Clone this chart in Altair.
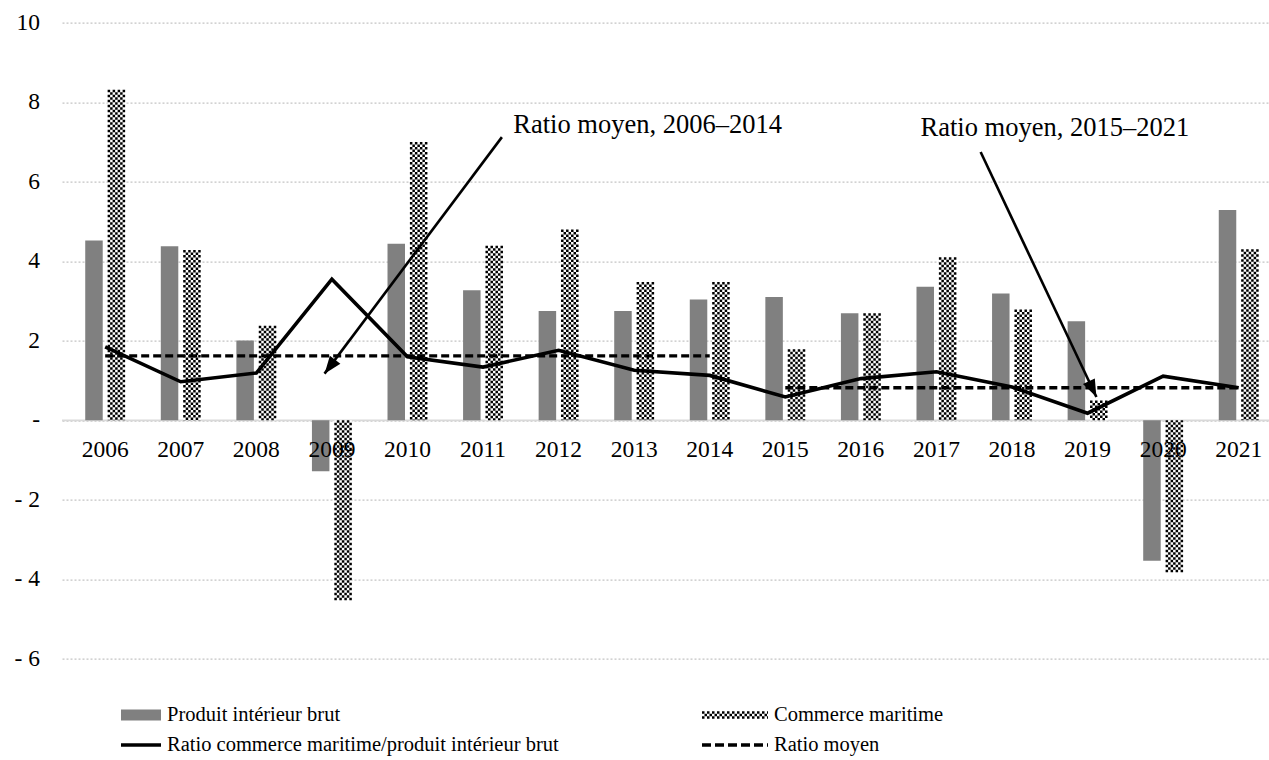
import math
import altair as alt
import pandas as pd

# ---- data -------------------------------------------------------------
years = list(range(2006, 2022))
pib = [4.52, 4.38, 2.01, -1.28, 4.44, 3.27, 2.75, 2.75, 3.04, 3.10, 2.69, 3.36, 3.19, 2.49, -3.53, 5.29]
commerce = [8.31, 4.28, 2.38, -4.52, 7.00, 4.39, 4.80, 3.48, 3.48, 1.79, 2.69, 4.10, 2.79, 0.50, -3.82, 4.30]
ratio = [1.85, 0.97, 1.19, 3.55, 1.60, 1.34, 1.76, 1.26, 1.13, 0.59, 1.05, 1.22, 0.84, 0.18, 1.11, 0.82]

period_names = ["2006–2014", "2015–2021"]
period_start = [2006, 2015]
period_end = [2014, 2021]
period_mean = [1.62, 0.82]

y_ticks = [-6, -4, -2, 0, 2, 4, 6, 8, 10]

# annotations, in data units (year, value)
note_text = ["Ratio moyen, 2006–2014", "Ratio moyen, 2015–2021"]
note_x = [2011.40, 2016.79]
note_y = [7.23, 7.15]
tail_x = [2011.25, 2017.585]
tail_y = [7.12, 6.745]
tip_x = [2008.903, 2019.117]
tip_y = [1.174, 0.586]

legend_names = ["Produit intérieur brut", "Commerce maritime",
                "Ratio commerce maritime/produit intérieur brut", "Ratio moyen"]
legend_kind = ["pib", "commerce", "ratio", "moyen"]
legend_col = [0, 1, 0, 1]
legend_row = [0, 0, 1, 1]

# ---- layout / style ---------------------------------------------------
FONT = "Liberation Serif"
PLOT_W = 1207
PLOT_H = 636.4
PAD_TOP = 22.6
X_DOMAIN = [2005.4948, 2021.3346]
Y_DOMAIN = [-6, 10]
BAR_W = 17.5
BAR_SHIFT = 11.2
CELL = 2.5
GREY = "#808080"
NBSP = "\u00a0"

px_x = PLOT_W / (X_DOMAIN[1] - X_DOMAIN[0])
px_y = PLOT_H / (Y_DOMAIN[1] - Y_DOMAIN[0])

bars = pd.DataFrame({"year": years, "label": [str(y) for y in years],
                     "pib": pib, "commerce": commerce, "ratio": ratio})


def tick_label(v):
    # accounting style: "-" for zero, "- n" for negatives
    if v == 0:
        return "-" + NBSP + NBSP
    if v < 0:
        return "- " + str(abs(v))
    return str(v)


ticks = pd.DataFrame({"v": y_ticks, "text": [tick_label(v) for v in y_ticks],
                      "x0": [X_DOMAIN[0]] * len(y_ticks)})

avg_rows = []
for name, s, e, m in zip(period_names, period_start, period_end, period_mean):
    avg_rows.append({"period": name, "year": s, "value": m})
    avg_rows.append({"period": name, "year": e, "value": m})
avg = pd.DataFrame(avg_rows)

angles = []
for tx, ty, hx, hy in zip(tail_x, tail_y, tip_x, tip_y):
    dx = (hx - tx) * px_x
    dy = -(hy - ty) * px_y
    angles.append(math.degrees(math.atan2(dx, -dy)) % 360)
arrows = pd.DataFrame({"tail_x": tail_x, "tail_y": tail_y,
                       "tip_x": tip_x, "tip_y": tip_y, "angle": angles})
notes = pd.DataFrame({"text": note_text, "x": note_x, "y": note_y})

legend_df = pd.DataFrame({"name": legend_names, "kind": legend_kind,
                          "col": legend_col, "row": legend_row})

xs = alt.Scale(domain=X_DOMAIN, nice=False, zero=False)
ys = alt.Scale(domain=Y_DOMAIN, nice=False, zero=False)

# grid only; the tick labels are drawn as a text layer
yax = alt.Axis(values=y_ticks, labels=False, grid=True, gridColor="#c4c4c4",
               gridDash=[2, 2], gridWidth=1.2, domain=False, ticks=False,
               tickSize=0, title=None)


def X(field):
    return alt.X(field, scale=xs, axis=None, title=None)


def Y(field):
    return alt.Y(field, scale=ys, axis=yax, title=None)


base = alt.Chart(bars)

zero_line = alt.Chart(pd.DataFrame({"v": [0]})).mark_rule(
    color="#d9d9d9", strokeWidth=1.6).encode(y=Y("v:Q"))

y_labels = alt.Chart(ticks).mark_text(font=FONT, fontSize=23.5, align="right",
                                      baseline="middle", dx=-27, color="black").encode(
    x=X("x0:Q"), y=Y("v:Q"), text="text:N")

gdp_bars = base.mark_bar(color=GREY, width=BAR_W, xOffset=-BAR_SHIFT).encode(
    x=X("year:Q"), y=Y("pib:Q"))

trade_bg = base.mark_bar(color="white", width=BAR_W, xOffset=BAR_SHIFT).encode(
    x=X("year:Q"), y=Y("commerce:Q"))

# checkered texture for the maritime-trade bars
n_cols = int(round(BAR_W / CELL))
trade_texture = []
for i in range(n_cols):
    off = BAR_SHIFT + (i - (n_cols - 1) / 2) * CELL
    trade_texture.append(
        base.mark_rule(color="black", strokeWidth=CELL, strokeDash=[CELL, CELL],
                       strokeDashOffset=(CELL if i % 2 else 0), strokeCap="butt",
                       xOffset=off).encode(
            x=X("year:Q"), y=Y("commerce:Q"), y2=alt.datum(0)))

year_labels = base.mark_text(font=FONT, fontSize=23.5, baseline="alphabetic",
                             dy=37, color="black").encode(
    x=X("year:Q"), y=alt.datum(0), text="label:N")

ratio_line = base.mark_line(color="black", strokeWidth=3.6).encode(
    x=X("year:Q"), y=Y("ratio:Q"))

avg_lines = alt.Chart(avg).mark_line(color="black", strokeWidth=3.3,
                                     strokeDash=[8, 4]).encode(
    x=X("year:Q"), y=Y("value:Q"), detail="period:N")

arrow_shafts = alt.Chart(arrows).mark_rule(color="black", strokeWidth=2.6).encode(
    x=X("tail_x:Q"), x2="tip_x:Q", y=Y("tail_y:Q"), y2="tip_y:Q")

arrow_heads = alt.Chart(arrows).mark_point(
    shape="M0,0L0.6,1.6L-0.6,1.6Z", size=480, filled=True,
    color="black", opacity=1, strokeWidth=0).encode(
    x=X("tip_x:Q"), y=Y("tip_y:Q"), angle=alt.Angle("angle:Q", scale=None))

note_labels = alt.Chart(notes).mark_text(font=FONT, fontSize=26.5, align="left",
                                         baseline="alphabetic", color="black").encode(
    x=X("x:Q"), y=Y("y:Q"), text="text:N")

main = alt.layer(zero_line, y_labels, gdp_bars, trade_bg, *trade_texture, year_labels,
                 ratio_line, avg_lines, arrow_shafts, arrow_heads, note_labels)

# ---- legend (below the plot area) --------------------------------------
# x positions are the left edges of the legend labels
ROW1_Y = 715 - PAD_TOP
ROW_GAP = 30
L = alt.Chart(legend_df)
LX = alt.X("col:Q", scale=alt.Scale(domain=[0, 1], range=[105, 712]), axis=None)
LY = alt.Y("row:Q", scale=alt.Scale(domain=[0, 1], range=[ROW1_Y, ROW1_Y + ROW_GAP]),
           axis=None)
SW_LEFT = 40     # swatch length, first column
SW_RIGHT = 66    # swatch length, second column
GAP = 6          # swatch-to-label gap

lg_pib = L.transform_filter(alt.datum.kind == "pib").mark_rule(
    color=GREY, strokeWidth=11, strokeCap="butt",
    xOffset=-(SW_LEFT + GAP), x2Offset=-GAP).encode(x=LX, x2="col:Q", y=LY)

lg_commerce = []
for j in range(3):
    lg_commerce.append(
        L.transform_filter(alt.datum.kind == "commerce").mark_rule(
            color="black", strokeWidth=CELL, strokeDash=[CELL, CELL],
            strokeDashOffset=(CELL if j % 2 else 0), strokeCap="butt",
            xOffset=-(SW_RIGHT + GAP), x2Offset=-GAP,
            yOffset=(j - 1) * CELL).encode(x=LX, x2="col:Q", y=LY))

lg_ratio = L.transform_filter(alt.datum.kind == "ratio").mark_rule(
    color="black", strokeWidth=3.5, strokeCap="butt",
    xOffset=-(SW_LEFT + GAP), x2Offset=-GAP).encode(x=LX, x2="col:Q", y=LY)

lg_moyen = L.transform_filter(alt.datum.kind == "moyen").mark_rule(
    color="black", strokeWidth=3.5, strokeDash=[9, 4], strokeCap="butt",
    xOffset=-(SW_RIGHT + GAP), x2Offset=-GAP).encode(x=LX, x2="col:Q", y=LY)

lg_text = L.mark_text(font=FONT, fontSize=20.5, align="left", baseline="middle",
                      color="black").encode(x=LX, y=LY, text="name:N")

legend = alt.layer(lg_pib, *lg_commerce, lg_ratio, lg_moyen, lg_text)

chart = alt.layer(main, legend).resolve_scale(
    x="independent", y="independent"
).properties(
    width=PLOT_W, height=PLOT_H,
    autosize=alt.AutoSizeParams(type="none"),
    padding={"left": 62, "top": PAD_TOP, "right": 0, "bottom": 760 - PAD_TOP - PLOT_H},
).configure_view(stroke=None)

chart.save("out.html", embed_options={"renderer": "svg", "actions": False})
